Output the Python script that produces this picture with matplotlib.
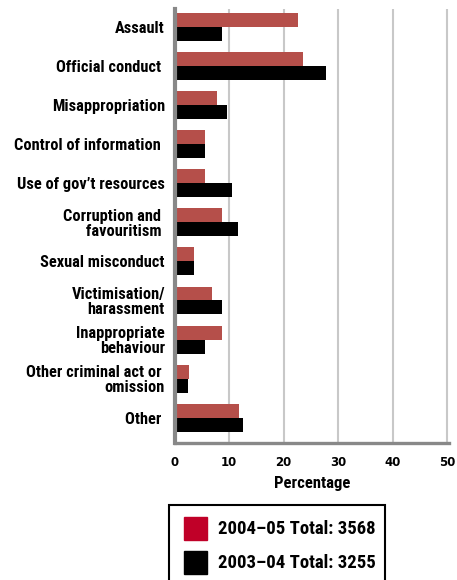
import matplotlib
matplotlib.use("Agg")
import matplotlib.pyplot as plt
from matplotlib import font_manager
from matplotlib.patches import Rectangle

# complaint categories, top to bottom
categories = [
    "Assault", "Official conduct ", "Misappropriation", "Control of information ",
    "Use of gov\u2019t resources", "Corruption and \nfavouritism ", "Sexual misconduct",
    "Victimisation/\nharassment", "Inappropriate\nbehaviour",
    "Other criminal act or \nomission", "Other ",
]
pct_2004_05 = [22.6, 23.5, 7.7, 5.5, 5.6, 8.7, 3.5, 6.8, 8.7, 2.7, 11.8]
pct_2003_04 = [8.6, 27.7, 9.6, 5.6, 10.5, 11.6, 3.5, 8.7, 5.6, 2.5, 12.6]
xticks = [0, 10, 20, 30, 40, 50]
legend_labels = ["2004\u201305 Total: 3568", "2003\u201304 Total: 3255"]

BAR_RED = "#b54f4a"
KEY_RED = "#c00028"
SPINE_GREY = "#888888"
GRID_GREY = "#c8c8c8"

W, H = 457, 580


def pick_font():
    for name in ["Liberation Sans Narrow", "Roboto Condensed", "Open Sans Condensed"]:
        try:
            font_manager.findfont(font_manager.FontProperties(family=name),
                                  fallback_to_default=False)
            return name
        except ValueError:
            continue
    return "Liberation Sans"


FONT = pick_font()


def fx(px):
    return px / W


def fy(py):
    return 1 - py / H


fig = plt.figure(figsize=(W / 100, H / 100), dpi=100)
ax = fig.add_axes([fx(174.7), fy(443.3), fx(449) - fx(174.7), fy(8.7) - fy(443.3)])

n = len(categories)
ypos = list(range(n))
bh = 0.358
ax.barh([y - bh / 2 for y in ypos], pct_2004_05, height=bh, color=BAR_RED, zorder=2)
ax.barh([y + bh / 2 for y in ypos], pct_2003_04, height=bh, color="black", zorder=2)

ax.set_xlim(0, 50.37)
ax.set_ylim(10.655, -0.468)

ax.set_xticks(xticks)
ax.set_xticklabels([str(t) for t in xticks], fontweight="bold", fontsize=8.5,
                   family="DejaVu Sans")
ax.set_yticks(ypos)
ax.set_yticklabels(categories, fontweight="bold", fontsize=11.8, family=FONT,
                   linespacing=1.0)
ax.tick_params(axis="both", length=0)
ax.tick_params(axis="y", pad=7)
ax.tick_params(axis="x", pad=9)

ax.grid(axis="x", color=GRID_GREY, linewidth=1.5, zorder=1)
ax.set_axisbelow(True)

for side in ["top", "right"]:
    ax.spines[side].set_visible(False)
ax.spines["left"].set_color(SPINE_GREY)
ax.spines["left"].set_linewidth(3)
ax.spines["bottom"].set_color(SPINE_GREY)
ax.spines["bottom"].set_linewidth(2.4)

ax.set_xlabel("Percentage", fontweight="bold", fontsize=12, family=FONT, labelpad=5)

# key box below the plot, running off the bottom edge
fig.add_artist(Rectangle((fx(169), fy(600)), fx(385) - fx(169), fy(505) - fy(600),
                         transform=fig.transFigure, fill=False, edgecolor="black",
                         linewidth=1.5))
key_colors = [KEY_RED, "black"]
key_tops = [517, 551]
for label, col, top in zip(legend_labels, key_colors, key_tops):
    fig.add_artist(Rectangle((fx(184), fy(top + 23)), fx(23), 23 / H,
                             transform=fig.transFigure, color=col))
    fig.text(fx(218), fy(top + 11.5), label, fontweight="bold", fontsize=13.5,
             family=FONT, va="center", ha="left")

fig.savefig("out.png", dpi=100)
